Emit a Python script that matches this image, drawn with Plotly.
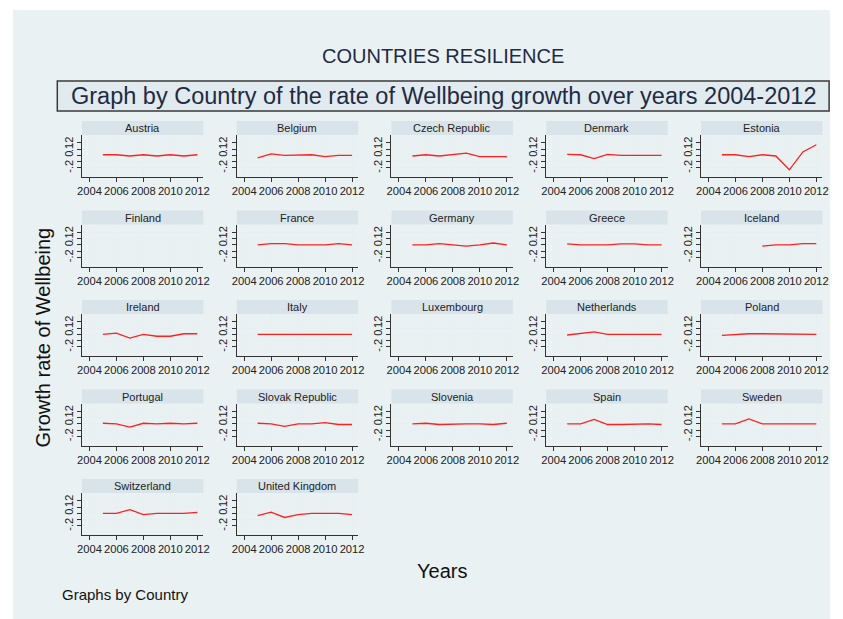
import plotly.graph_objects as go

# ---------------- data ----------------
years = [2005, 2006, 2007, 2008, 2009, 2010, 2011, 2012]

countries = ["Austria", "Belgium", "Czech Republic", "Denmark", "Estonia",
             "Finland", "France", "Germany", "Greece", "Iceland",
             "Ireland", "Italy", "Luxembourg", "Netherlands", "Poland",
             "Portugal", "Slovak Republic", "Slovenia", "Spain", "Sweden",
             "Switzerland", "United Kingdom"]

austria = [0.01, 0.01, -0.01, 0.01, -0.01, 0.01, -0.01, 0.01]
belgium = [-0.04, 0.025, 0.0, 0.0, 0.01, -0.02, 0.0, 0.0]
czech = [-0.01, 0.01, -0.01, 0.01, 0.035, -0.02, -0.02, -0.02]
denmark = [0.015, 0.01, -0.05, 0.015, 0.0, 0.0, 0.0, 0.0]
estonia = [0.01, 0.01, -0.02, 0.01, -0.01, -0.23, 0.055, 0.17]
finland = [None, None, None, None, None, None, None, None]
france = [0.0, 0.02, 0.02, 0.0, 0.0, 0.0, 0.02, 0.0]
germany = [0.0, 0.0, 0.02, 0.0, -0.02, 0.0, 0.03, 0.0]
greece = [0.015, 0.0, 0.0, 0.0, 0.015, 0.015, 0.0, 0.0]
iceland = [None, None, None, -0.02, 0.0, 0.0, 0.02, 0.02]
ireland = [0.0, 0.02, -0.06, 0.0, -0.03, -0.03, 0.01, 0.01]
italy = [0.0, 0.0, 0.0, 0.0, 0.01, 0.0, 0.0, 0.0]
luxembourg = [None, None, None, None, None, None, None, None]
netherlands = [-0.01, 0.01, 0.04, 0.0, 0.0, 0.0, 0.0, 0.0]
poland = [-0.015, 0.0, 0.01, 0.01, 0.01, 0.0, 0.0, 0.0]
portugal = [0.01, 0.0, -0.05, 0.01, 0.0, 0.01, 0.0, 0.01]
slovakia = [0.01, 0.0, -0.04, 0.0, 0.0, 0.02, -0.01, -0.01]
slovenia = [0.0, 0.01, -0.01, 0.0, 0.0, 0.0, -0.01, 0.01]
spain = [0.0, 0.0, 0.07, -0.01, -0.01, 0.0, 0.0, -0.01]
sweden = [0.0, 0.0, 0.08, 0.0, 0.0, 0.0, 0.0, 0.0]
switzerland = [0.0, 0.0, 0.06, -0.02, 0.0, 0.0, 0.0, 0.015]
uk = [-0.035, 0.02, -0.065, -0.02, 0.0, 0.0, 0.0, -0.02]

series = [austria, belgium, czech, denmark, estonia,
          finland, france, germany, greece, iceland,
          ireland, italy, luxembourg, netherlands, poland,
          portugal, slovakia, slovenia, spain, sweden,
          switzerland, uk]

x_tickvals = [2004, 2006, 2008, 2010, 2012]
y_tickvals = [-0.2, -0.1, 0, 0.1, 0.2]
y_ticktext = ["-.2", "", "0", ".1", ".2"]

# ---------------- layout helpers ----------------
W, H = 843, 619


def fx(px):
    return px / W


def fy(py):
    return 1 - py / H


BG = "#eaf1f3"
STRIP = "#d9e4ea"
GRID = "#e8eff2"
AXIS = "#333333"
TXT = "#1f2a44"
FONT = "Liberation Sans, Arial, sans-serif"

fig = go.Figure()
shapes = []
annotations = []
layout_axes = {}

# outer background
shapes.append(dict(type="rect", xref="paper", yref="paper",
                   x0=fx(8), x1=fx(836), y0=fy(619), y1=fy(10),
                   fillcolor=BG, line=dict(width=0), layer="below"))

for i, (name, vals) in enumerate(zip(countries, series)):
    r, c = divmod(i, 5)
    left = 78 + 156.8 * c
    right = left + 123
    top = 121 + 89.5 * r
    sb = top + 14
    bottom = top + 56
    n = "" if i == 0 else str(i + 1)

    fig.add_trace(go.Scatter(x=years, y=vals, mode="lines",
                             line=dict(color="#ff2020", width=1.3),
                             connectgaps=False, showlegend=False,
                             xaxis="x" + n, yaxis="y" + n))

    layout_axes["xaxis" + n] = dict(
        domain=[fx(left), fx(right)], anchor="y" + n,
        range=[2003.45, 2012.45], tickmode="array", tickvals=x_tickvals,
        tickangle=0,
        showgrid=True, gridcolor=GRID, gridwidth=1, zeroline=False,
        showline=True, linecolor=AXIS, linewidth=1,
        ticks="outside", ticklen=4, tickcolor=AXIS,
        tickfont=dict(size=11.2, color="#222222", family=FONT),
        fixedrange=True)
    layout_axes["yaxis" + n] = dict(
        domain=[fy(bottom), fy(sb)], anchor="x" + n,
        range=[-0.345, 0.325], tickmode="array", tickvals=y_tickvals,
        ticktext=y_ticktext, tickangle=-90,
        showgrid=True, gridcolor=GRID, gridwidth=1, zeroline=False,
        showline=True, linecolor=AXIS, linewidth=1,
        ticks="outside", ticklen=4, tickcolor=AXIS,
        tickfont=dict(size=11, color="#222222", family=FONT),
        fixedrange=True)

    shapes.append(dict(type="rect", xref="paper", yref="paper",
                       x0=fx(left), x1=fx(right), y0=fy(sb), y1=fy(top),
                       fillcolor=STRIP, line=dict(width=0)))
    annotations.append(dict(text=name, xref="paper", yref="paper",
                            x=fx((left + right) / 2), y=fy((top + sb) / 2),
                            xanchor="center", yanchor="middle", showarrow=False,
                            font=dict(size=11, color="#222222", family=FONT)))

# subtitle box
shapes.append(dict(type="rect", xref="paper", yref="paper",
                   x0=fx(53), x1=fx(835), y0=fy(111), y1=fy(81),
                   fillcolor="#e1eaee", line=dict(color="#3a3a3a", width=1.5)))

annotations += [
    dict(text="COUNTRIES RESILIENCE", xref="paper", yref="paper",
         x=fx(444), y=fy(56), xanchor="center", yanchor="middle",
         showarrow=False, font=dict(size=20, color=TXT, family=FONT)),
    dict(text="Graph by Country of the rate of Wellbeing growth over years 2004-2012",
         xref="paper", yref="paper", x=fx(444), y=fy(96),
         xanchor="center", yanchor="middle", showarrow=False,
         font=dict(size=23.5, color=TXT, family=FONT)),
    dict(text="Growth rate of Wellbeing", xref="paper", yref="paper",
         x=fx(39), y=fy(337), xanchor="center", yanchor="middle",
         textangle=-90, showarrow=False,
         font=dict(size=20, color="#111111", family=FONT)),
    dict(text="Years", xref="paper", yref="paper",
         x=fx(443), y=fy(571), xanchor="center", yanchor="middle",
         showarrow=False, font=dict(size=20, color="#111111", family=FONT)),
    dict(text="Graphs by Country", xref="paper", yref="paper",
         x=fx(56), y=fy(594), xanchor="left", yanchor="middle",
         showarrow=False, font=dict(size=15, color="#111111", family=FONT)),
]

fig.update_layout(
    width=W, height=H, autosize=False,
    margin=dict(l=0, r=0, t=0, b=0),
    paper_bgcolor="white", plot_bgcolor="white",
    shapes=shapes, annotations=annotations,
    font=dict(family=FONT),
    **layout_axes,
)

fig.write_html("out.html", config={"displayModeBar": False, "responsive": False})
